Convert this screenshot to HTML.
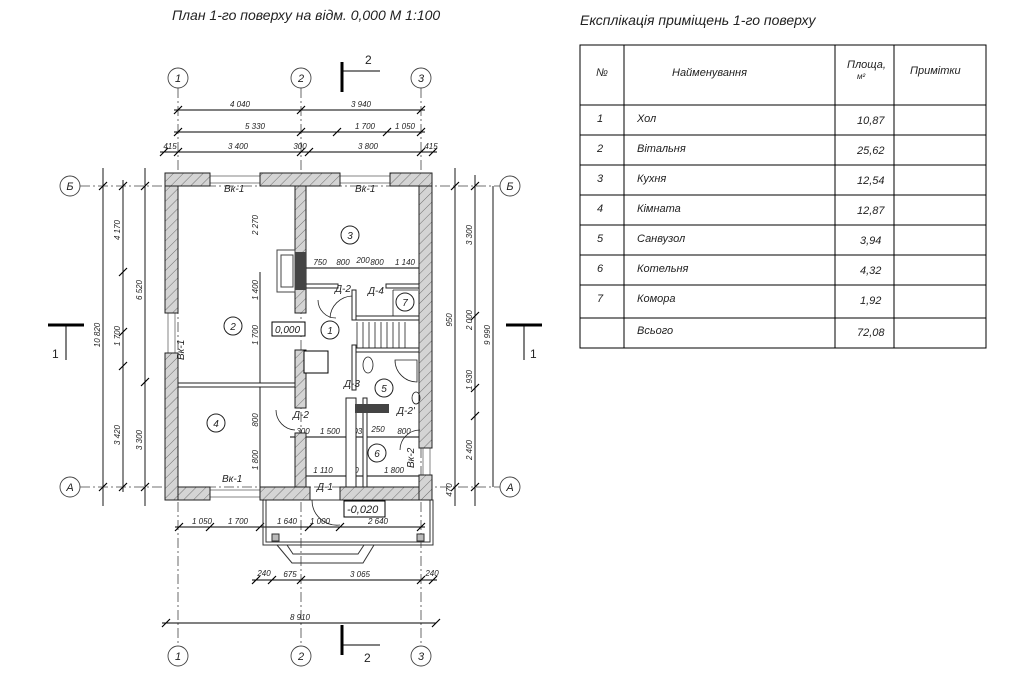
<!DOCTYPE html>
<html><head><meta charset="utf-8"><style>
html,body{margin:0;padding:0;background:#fff;width:1024px;height:682px;overflow:hidden}
svg{display:block}
text{font-family:"Liberation Sans",sans-serif;font-style:italic;fill:#222}
.d{font-size:8px}
.b{fill:#2a2ab0;font-size:10px}
</style></head><body>
<svg width="1024" height="682" viewBox="0 0 1024 682" xmlns="http://www.w3.org/2000/svg">
<defs>
<pattern id="h" width="7" height="7" patternUnits="userSpaceOnUse" patternTransform="rotate(45)">
<rect width="7" height="7" fill="#d4d4d4"/><line x1="0" y1="0" x2="0" y2="7" stroke="#555" stroke-width="0.8"/>
</pattern>
</defs>
<!-- titles -->
<text x="172" y="20" font-size="14">План 1-го поверху на відм. 0,000  М 1:100</text>
<text x="580" y="25" font-size="14">Експлікація приміщень 1-го поверху</text>

<!-- grid axes -->
<g stroke="#444" stroke-width="0.8" stroke-dasharray="10,3,2,3" fill="none">
<line x1="178" y1="88" x2="178" y2="646"/><line x1="301" y1="88" x2="301" y2="646"/><line x1="421" y1="88" x2="421" y2="646"/>
<line x1="80" y1="186" x2="500" y2="186"/><line x1="80" y1="487" x2="500" y2="487"/>
</g>
<g stroke="#444" fill="#fff" stroke-width="0.9">
<circle cx="178" cy="78" r="10"/><circle cx="301" cy="78" r="10"/><circle cx="421" cy="78" r="10"/>
<circle cx="178" cy="656" r="10"/><circle cx="301" cy="656" r="10"/><circle cx="421" cy="656" r="10"/>
<circle cx="70" cy="186" r="10"/><circle cx="70" cy="487" r="10"/><circle cx="510" cy="186" r="10"/><circle cx="510" cy="487" r="10"/>
</g>
<g font-size="11" text-anchor="middle">
<text x="178" y="82">1</text><text x="301" y="82">2</text><text x="421" y="82">3</text>
<text x="178" y="660">1</text><text x="301" y="660">2</text><text x="421" y="660">3</text>
<text x="70" y="190">Б</text><text x="70" y="491">А</text><text x="510" y="190">Б</text><text x="510" y="491">А</text>
</g>

<!-- section marks -->
<g stroke="#000" fill="none">
<line x1="342" y1="62" x2="342" y2="92" stroke-width="3"/><line x1="342" y1="71" x2="380" y2="71"/>
<line x1="342" y1="625" x2="342" y2="655" stroke-width="3"/><line x1="342" y1="645" x2="380" y2="645"/>
<line x1="48" y1="325" x2="84" y2="325" stroke-width="3"/><line x1="66" y1="325" x2="66" y2="360"/>
<line x1="506" y1="325" x2="542" y2="325" stroke-width="3"/><line x1="524" y1="325" x2="524" y2="360"/>
</g>
<g font-size="12" font-style="normal"><text x="365" y="64" style="font-style:normal">2</text><text x="364" y="662" style="font-style:normal">2</text><text x="52" y="358" style="font-style:normal">1</text><text x="530" y="358" style="font-style:normal">1</text></g>

<!-- dimension lines -->
<g stroke="#000" stroke-width="0.9">
<line x1="174" y1="110" x2="425" y2="110"/><line x1="174" y1="132" x2="425" y2="132"/><line x1="160" y1="152" x2="437" y2="152"/>
<line x1="103" y1="168" x2="103" y2="506"/><line x1="123" y1="180" x2="123" y2="492"/><line x1="145" y1="168" x2="145" y2="506"/>
<line x1="455" y1="168" x2="455" y2="506"/><line x1="475" y1="175" x2="475" y2="506"/><line x1="493" y1="186" x2="493" y2="487"/>
<line x1="175" y1="527" x2="425" y2="527"/><line x1="252" y1="580" x2="437" y2="580"/><line x1="162" y1="623" x2="436" y2="623"/>
<line x1="260" y1="272" x2="260" y2="487"/>
<line x1="305" y1="268" x2="419" y2="268"/><line x1="290" y1="437" x2="419" y2="437"/><line x1="303" y1="476" x2="419" y2="476"/>
</g>
<g stroke="#000" stroke-width="1.2">
<path d="M174 114l8-8M297 114l8-8M417 114l8-8M174 136l8-8M297 136l8-8M333 136l8-8M383 136l8-8M417 136l8-8M160 156l8-8M174 156l8-8M297 156l8-8M305 156l8-8M417 156l8-8M429 156l8-8"/>
<path d="M99 190l8-8M99 491l8-8M119 190l8-8M119 276l8-8M119 336l8-8M119 370l8-8M119 491l8-8M141 190l8-8M141 386l8-8M141 491l8-8M451 190l8-8M451 491l8-8M471 190l8-8M471 320l8-8M471 392l8-8M471 420l8-8M471 491l8-8"/>
<path d="M175 531l8-8M206 531l8-8M256 531l8-8M305 531l8-8M336 531l8-8M417 531l8-8M252 584l8-8M268 584l8-8M297 584l8-8M417 584l8-8M429 584l8-8M162 627l8-8M432 627l8-8"/>
</g>
<g class="d" text-anchor="middle">
<text x="240" y="107">4 040</text><text x="361" y="107">3 940</text>
<text x="255" y="129">5 330</text><text x="365" y="129">1 700</text><text x="405" y="129">1 050</text>
<text x="170" y="149">415</text><text x="238" y="149">3 400</text><text x="300" y="149">300</text><text x="368" y="149">3 800</text><text x="431" y="149">415</text>
<text x="202" y="524">1 050</text><text x="238" y="524">1 700</text><text x="287" y="524">1 640</text><text x="320" y="524">1 000</text><text x="378" y="524">2 640</text>
<text x="264" y="576">240</text><text x="290" y="577">675</text><text x="360" y="577">3 065</text><text x="432" y="576">240</text>
<text x="300" y="620">8 910</text>
<text x="320" y="265">750</text><text x="343" y="265">800</text><text x="363" y="263">200</text><text x="377" y="265">800</text><text x="405" y="265">1 140</text>
<text x="303" y="434">300</text><text x="330" y="434">1 500</text><text x="360" y="434">030</text><text x="378" y="432">250</text><text x="404" y="434">800</text>
<text x="323" y="473">1 110</text><text x="352" y="473">770</text><text x="394" y="473">1 800</text>
</g>
<g class="d" text-anchor="middle">
<text transform="translate(100,335) rotate(-90)">10 820</text>
<text transform="translate(120,230) rotate(-90)">4 170</text><text transform="translate(120,336) rotate(-90)">1 700</text><text transform="translate(120,435) rotate(-90)">3 420</text>
<text transform="translate(142,290) rotate(-90)">6 520</text><text transform="translate(142,440) rotate(-90)">3 300</text>
<text transform="translate(258,225) rotate(-90)">2 270</text><text transform="translate(258,290) rotate(-90)">1 400</text><text transform="translate(258,335) rotate(-90)">1 700</text><text transform="translate(258,420) rotate(-90)">800</text><text transform="translate(258,460) rotate(-90)">1 800</text>
<text transform="translate(472,235) rotate(-90)">3 300</text><text transform="translate(472,320) rotate(-90)">2 000</text><text transform="translate(472,380) rotate(-90)">1 930</text><text transform="translate(472,450) rotate(-90)">2 400</text>
<text transform="translate(490,335) rotate(-90)">9 990</text>
<text transform="translate(452,320) rotate(-90)">950</text><text transform="translate(452,490) rotate(-90)">470</text>
</g>

<!-- porch -->
<g stroke="#333" fill="none" stroke-width="1">
<rect x="263" y="500" width="170" height="45"/><rect x="266" y="500" width="164" height="42"/>
<path d="M277 545L292 563H363L374 545"/><path d="M287 545L293 554H358L364 545"/>
</g>
<rect x="272" y="534" width="7" height="7" fill="#bbb" stroke="#333"/><rect x="417" y="534" width="7" height="7" fill="#bbb" stroke="#333"/>
<rect x="344" y="501" width="41" height="16" fill="#fff" stroke="#000"/><text x="347" y="513" font-size="11">-0,020</text>

<!-- windows -->
<g stroke="#666" fill="#fff" stroke-width="0.8">
<rect x="210" y="176" width="50" height="7"/><rect x="340" y="176" width="50" height="7"/>
<rect x="210" y="490" width="50" height="7"/><rect x="168" y="313" width="7" height="40"/><rect x="423" y="448" width="7" height="27"/>
</g>
<!-- walls -->
<g fill="url(#h)" stroke="#222" stroke-width="1">
<rect x="165" y="173" width="45" height="13"/><rect x="260" y="173" width="80" height="13"/><rect x="390" y="173" width="42" height="13"/>
<rect x="165" y="186" width="13" height="127"/><rect x="165" y="353" width="13" height="147"/>
<rect x="419" y="186" width="13" height="262"/><rect x="419" y="475" width="13" height="25"/>
<rect x="178" y="487" width="32" height="13"/><rect x="260" y="487" width="50" height="13"/><rect x="340" y="487" width="79" height="13"/>
<rect x="295" y="186" width="11" height="127"/><rect x="295" y="350" width="11" height="58"/><rect x="295" y="433" width="11" height="54"/>
</g>
<g fill="#fff" stroke="#222" stroke-width="1">
<rect x="178" y="383" width="117" height="4"/>
<rect x="306" y="284" width="32" height="4"/><rect x="386" y="284" width="33" height="4"/>
<rect x="352" y="290" width="4" height="30"/><rect x="352" y="345" width="4" height="45"/>
<rect x="346" y="398" width="10" height="89"/><rect x="363" y="398" width="4" height="89"/>
<rect x="356" y="316" width="63" height="4"/><rect x="356" y="348" width="63" height="4"/>
<rect x="295" y="313" width="11" height="5" fill="none" stroke="none"/>
<rect x="324" y="228" width="0" height="0"/>
<rect x="358" y="477" width="0" height="0"/>
</g>
<rect x="277" y="250" width="18" height="42" fill="#fff" stroke="#444"/><rect x="281" y="255" width="12" height="32" fill="none" stroke="#444"/>
<rect x="295" y="252" width="11" height="38" fill="#444"/>
<rect x="304" y="351" width="24" height="22" fill="#fff" stroke="#000"/>
<rect x="272" y="322" width="33" height="14" fill="#fff" stroke="#000"/><text x="275" y="333" font-size="10">0,000</text>
<rect x="355" y="404" width="34" height="9" fill="#444"/>
<!-- stairs -->
<g stroke="#222" stroke-width="0.8" fill="none">
<path d="M357 322V348M363 322V348M369 322V348M375 322V348M381 322V348M387 322V348M393 322V348M399 322V348M405 322V348"/>
<path d="M393 290H418M393 290V316"/>
<path d="M330 318a23 23 0 0 1 22-22M318 300a18 18 0 0 0 18 18M400 450a20 20 0 0 1 20 -20M312 500a25 25 0 0 0 28 25M276 410a20 20 0 0 0 19 20"/>
<ellipse cx="368" cy="365" rx="5" ry="8"/><path d="M395 360h22v22a22 22 0 0 1-22-22z"/><ellipse cx="416" cy="398" rx="4" ry="6"/>
</g>
<!-- room numbers -->
<g stroke="#222" fill="none"><circle cx="233" cy="326" r="9"/><circle cx="330" cy="330" r="9"/><circle cx="350" cy="235" r="9"/><circle cx="216" cy="423" r="9"/><circle cx="384" cy="388" r="9"/><circle cx="377" cy="453" r="9"/><circle cx="405" cy="302" r="9"/></g>
<g font-size="10" text-anchor="middle"><text x="233" y="330">2</text><text x="330" y="334">1</text><text x="350" y="239">3</text><text x="216" y="427">4</text><text x="384" y="392">5</text><text x="377" y="457">6</text><text x="405" y="306">7</text></g>
<g class="b"><text x="224" y="192">Вк-1</text><text x="355" y="192">Вк-1</text><text x="222" y="482">Вк-1</text><text x="335" y="292">Д-2</text><text x="368" y="294">Д-4</text><text x="344" y="387">Д-3</text><text x="397" y="414">Д-2'</text><text x="293" y="418">Д-2</text><text x="317" y="490">Д-1</text>
<text transform="translate(184,360) rotate(-90)">Вк-1</text><text transform="translate(414,468) rotate(-90)">Вк-2</text></g>

<!-- table -->
<g stroke="#000" stroke-width="1" fill="none">
<rect x="580" y="45" width="406" height="303"/>
<line x1="624" y1="45" x2="624" y2="348"/><line x1="835" y1="45" x2="835" y2="348"/><line x1="894" y1="45" x2="894" y2="348"/>
<line x1="580" y1="105" x2="986" y2="105"/><line x1="580" y1="135" x2="986" y2="135"/><line x1="580" y1="165" x2="986" y2="165"/><line x1="580" y1="195" x2="986" y2="195"/><line x1="580" y1="225" x2="986" y2="225"/><line x1="580" y1="255" x2="986" y2="255"/><line x1="580" y1="285" x2="986" y2="285"/><line x1="580" y1="318" x2="986" y2="318"/>
</g>
<g font-size="11">
<text x="596" y="76">№</text><text x="672" y="76">Найменування</text><text x="847" y="68">Площа,</text><text x="857" y="79" font-size="8">м²</text><text x="910" y="74">Примітки</text>
<text x="597" y="122">1</text><text x="637" y="122">Хол</text><text x="857" y="124">10,87</text>
<text x="597" y="152">2</text><text x="637" y="152">Вітальня</text><text x="857" y="154">25,62</text>
<text x="597" y="182">3</text><text x="637" y="182">Кухня</text><text x="857" y="184">12,54</text>
<text x="597" y="212">4</text><text x="637" y="212">Кімната</text><text x="857" y="214">12,87</text>
<text x="597" y="242">5</text><text x="637" y="242">Санвузол</text><text x="860" y="244">3,94</text>
<text x="597" y="272">6</text><text x="637" y="272">Котельня</text><text x="860" y="274">4,32</text>
<text x="597" y="302">7</text><text x="637" y="302">Комора</text><text x="860" y="304">1,92</text>
<text x="637" y="334">Всього</text><text x="857" y="336">72,08</text>
</g>
</svg>
</body></html>
